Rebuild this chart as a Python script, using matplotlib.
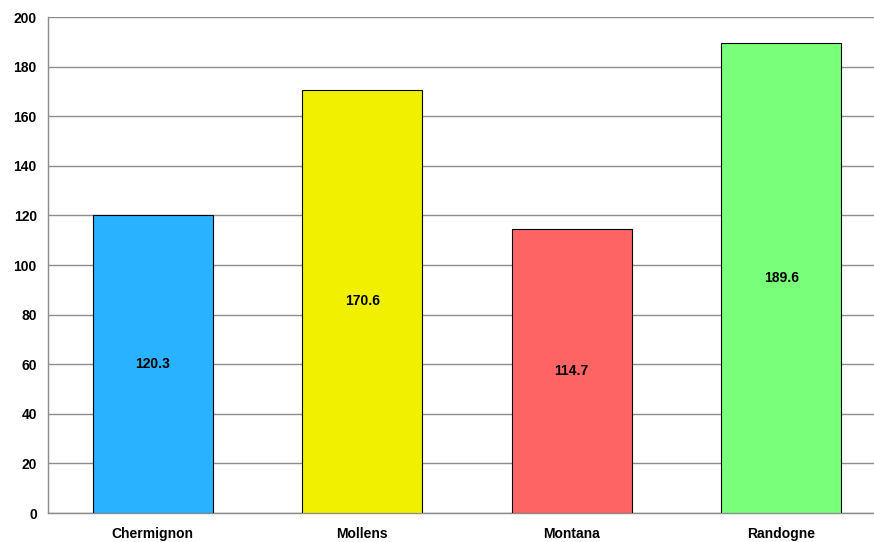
import numpy as np
import matplotlib.pyplot as plt

communes = ['Chermignon', 'Mollens', 'Montana', 'Randogne']
valeurs = [120.3, 170.6, 114.7, 189.6]
couleurs = ['#29B2FF', '#F0F000', '#FF6464', '#7AFF7A']
yticks = [0, 20, 40, 60, 80, 100, 120, 140, 160, 180, 200]

plt.rcParams['font.family'] = ['Liberation Sans', 'DejaVu Sans']

fig = plt.figure(figsize=(8.74, 5.42), dpi=100)
ax = fig.add_axes([0.0549, 0.0535, 0.9588, 0.915])

x = np.arange(len(communes))
bars = ax.bar(x, valeurs, width=0.571, color=couleurs, edgecolor='black',
              linewidth=0.8, zorder=3)

for xi, v in zip(x, valeurs):
    ax.text(xi, v / 2, f'{v:.1f}', ha='center', va='center',
            fontsize=10, fontweight='bold', zorder=4)

ax.set_xlim(-0.5, 3.5)
ax.set_ylim(0, 200)
ax.set_yticks(yticks)
ax.set_xticks(x)
ax.set_xticklabels(communes, fontsize=10, fontweight='bold')
for lab in ax.get_yticklabels():
    lab.set_fontsize(10)
    lab.set_fontweight('bold')
ax.tick_params(length=0, pad=8)
ax.tick_params(axis='x', pad=10)

ax.grid(axis='y', color='#8c8c8c', linewidth=1, zorder=0)
for side in ['top', 'right']:
    ax.spines[side].set_visible(False)
for side in ['left', 'bottom']:
    ax.spines[side].set_color('#8c8c8c')
    ax.spines[side].set_linewidth(1)

fig.savefig('out.png', dpi=100)
